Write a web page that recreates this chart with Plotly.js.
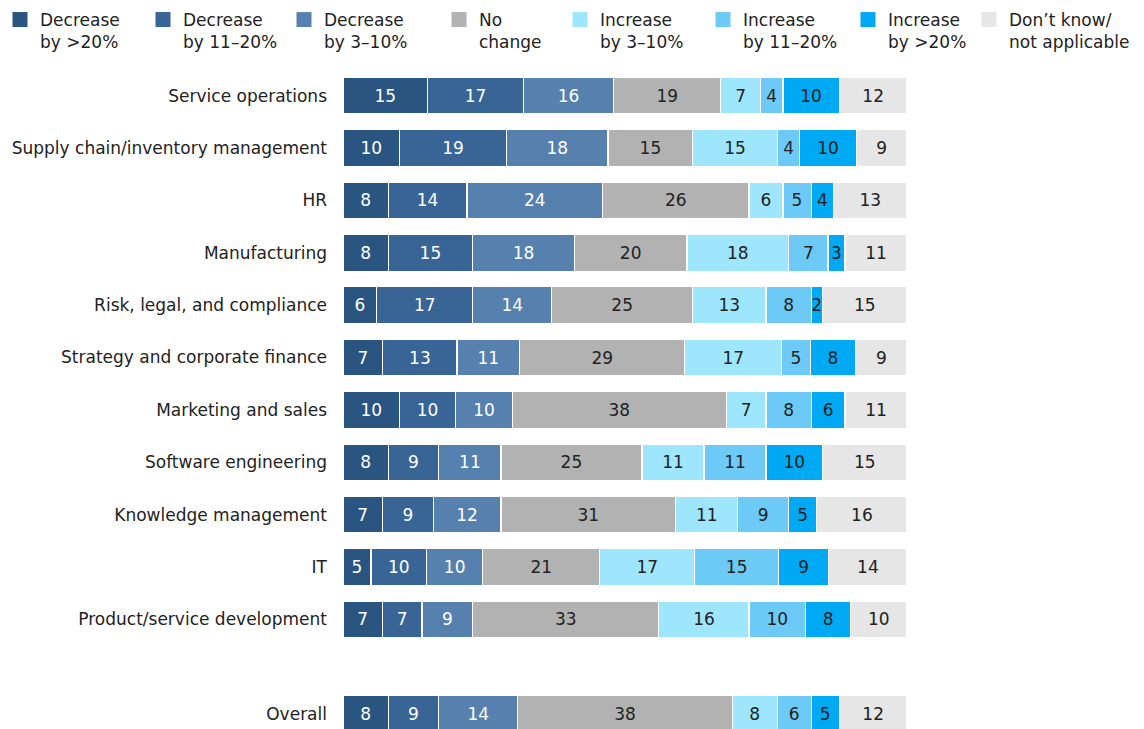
<!DOCTYPE html>
<html>
<head>
<meta charset="utf-8">
<script src="https://cdn.plot.ly/plotly-3.0.1.min.js"></script>
<style>html,body{margin:0;padding:0;background:#fff;}#chart{width:1144px;height:729px;}</style>
</head>
<body>
<div id="chart"></div>
<script>
// ---- data ----
var categories = [
  "Service operations",
  "Supply chain/inventory management",
  "HR",
  "Manufacturing",
  "Risk, legal, and compliance",
  "Strategy and corporate finance",
  "Marketing and sales",
  "Software engineering",
  "Knowledge management",
  "IT",
  "Product/service development",
  "Overall"
];
var seriesNames = [
  "Decrease<br>by >20%",
  "Decrease<br>by 11–20%",
  "Decrease<br>by 3–10%",
  "No<br>change",
  "Increase<br>by 3–10%",
  "Increase<br>by 11–20%",
  "Increase<br>by >20%",
  "Don’t know/<br>not applicable"
];
var decrease20   = [15, 10,  8,  8,  6,  7, 10,  8,  7,  5,  7,  8];
var decrease1120 = [17, 19, 14, 15, 17, 13, 10,  9,  9, 10,  7,  9];
var decrease310  = [16, 18, 24, 18, 14, 11, 10, 11, 12, 10,  9, 14];
var noChange     = [19, 15, 26, 20, 25, 29, 38, 25, 31, 21, 33, 38];
var increase310  = [ 7, 15,  6, 18, 13, 17,  7, 11, 11, 17, 16,  8];
var increase1120 = [ 4,  4,  5,  7,  8,  5,  8, 11,  9, 15, 10,  6];
var increase20   = [10, 10,  4,  3,  2,  8,  6, 10,  5,  9,  8,  5];
var dontKnow     = [12,  9, 13, 11, 15,  9, 11, 15, 16, 14, 10, 12];

var seriesValues = [decrease20, decrease1120, decrease310, noChange,
                    increase310, increase1120, increase20, dontKnow];

// ---- styles ----
var colors = ["#2b5581", "#386496", "#5681ae", "#b2b2b2", "#9de6fd", "#6dcaf6", "#00a9f4", "#e6e6e6"];
var textColors = ["#ffffff", "#ffffff", "#ffffff", "#222222", "#222222", "#222222", "#222222", "#222222"];
var legendTextX = [37, 182, 323, 478, 599, 742, 887, 1008];
var FONT = "DejaVu Sans, Liberation Sans, Arial, sans-serif";

// row positions: one slot per category, with extra space before "Overall"
var overallGap = 0.8;
var yPos = categories.map(function (c, i) { return i === categories.length - 1 ? i + overallGap : i; });

function legendKey(k) { return k === 0 ? "legend" : "legend" + (k + 1); }

var traces = [];
seriesValues.forEach(function (vals, k) {
  traces.push({
    type: "bar",
    orientation: "h",
    name: seriesNames[k],
    x: vals,
    y: yPos,
    text: vals.map(String),
    textposition: "inside",
    insidetextanchor: "middle",
    textangle: 0,
    constraintext: "none",
    cliponaxis: false,
    textfont: {family: FONT, size: 17, color: textColors[k]},
    marker: {color: colors[k], line: {color: "#ffffff", width: 1.2}},
    width: 0.7,
    hoverinfo: "skip",
    showlegend: false
  });
});
// legend entries (square swatches)
seriesNames.forEach(function (nm, k) {
  traces.push({
    type: "scatter",
    mode: "markers",
    name: nm,
    x: [null],
    y: [null],
    marker: {symbol: "square", size: 15, color: colors[k], line: {width: 0}},
    hoverinfo: "skip",
    showlegend: true,
    legend: legendKey(k)
  });
});

var layout = {
  width: 1144,
  height: 729,
  paper_bgcolor: "#ffffff",
  plot_bgcolor: "#ffffff",
  margin: {l: 343, r: 237, t: 60, b: 0, pad: 0},
  barmode: "stack",
  barnorm: "percent",
  font: {family: FONT, size: 17, color: "#222222"},
  xaxis: {range: [0, 100.001], visible: false, fixedrange: true},
  yaxis: {
    range: [12.095, -0.682],
    tickmode: "array",
    tickvals: yPos,
    ticktext: categories,
    showgrid: false,
    zeroline: false,
    showline: false,
    ticks: "",
    ticklabelstandoff: 15,
    tickfont: {family: FONT, size: 17, color: "#222222"},
    fixedrange: true
  },
  showlegend: true
};

legendTextX.forEach(function (tx, k) {
  layout[legendKey(k)] = {
    xref: "container", yref: "container",
    x: (tx - 39) / 1144, xanchor: "left",
    y: 1 - 2 / 729, yanchor: "top",
    orientation: "h",
    valign: "top",
    itemsizing: "trace",
    bgcolor: "rgba(0,0,0,0)",
    borderwidth: 0,
    font: {family: FONT, size: 17, color: "#222222"}
  };
});

Plotly.newPlot("chart", traces, layout, {displayModeBar: false, staticPlot: true});
</script>
</body>
</html>
